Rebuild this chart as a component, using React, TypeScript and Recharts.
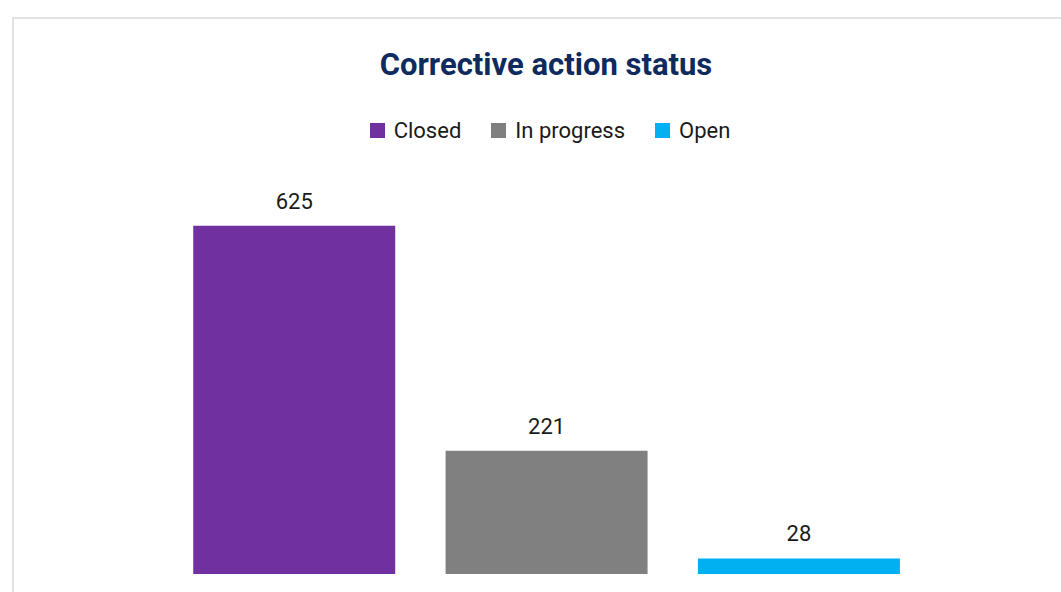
import React from "react";
import { BarChart, Bar, XAxis, YAxis, Cell, LabelList, Legend } from "recharts";

const categories = ["Closed", "In progress", "Open"];
const counts = [625, 221, 28];
const colors = ["#7030a0", "#808080", "#00b0f0"];

const data = categories.map((name, i) => ({ name, value: counts[i] }));

const FONT = "Roboto, 'Noto Sans', sans-serif";

const LegendContent = () => (
  <div style={{ display: "flex", justifyContent: "center", alignItems: "center", fontFamily: FONT, fontSize: 22, color: "#1a1a1a", height: 24 }}>
    {categories.map((c, i) => (
      <div key={c} style={{ display: "flex", alignItems: "center", marginRight: i < categories.length - 1 ? 30 : 0 }}>
        <span style={{ display: "inline-block", width: 15, height: 15, background: colors[i], marginRight: 9 }} />
        <span>{c}</span>
      </div>
    ))}
  </div>
);

export default function App() {
  return (
    <div style={{ position: "fixed", left: 0, top: 0, width: 1061, height: 592, background: "#fff", overflow: "hidden" }}>
      <div style={{ position: "absolute", left: 12, top: 17, width: 1200, height: 700, border: "2px solid #e2e2e2", boxSizing: "border-box" }} />
      <div style={{ position: "absolute", left: 0, top: 46, width: 1092, textAlign: "center", fontFamily: FONT, fontWeight: 700, fontSize: 31, color: "#0e2a5e" }}>
        Corrective action status
      </div>
      <div style={{ position: "absolute", left: 0, top: 0 }}>
        <BarChart width={1061} height={592} data={data} margin={{ top: 160, right: 136, bottom: 18, left: 168 }} barCategoryGap="10%">
          <XAxis dataKey="name" hide />
          <YAxis domain={[0, 700]} hide />
          <Legend verticalAlign="top" content={<LegendContent />} wrapperStyle={{ position: "absolute", top: 118, left: 0, width: 1100 }} />
          <Bar dataKey="value" isAnimationActive={false}>
            {data.map((d, i) => (
              <Cell key={d.name} fill={colors[i]} />
            ))}
            <LabelList dataKey="value" position="top" offset={17} style={{ fontFamily: FONT, fontSize: 22, fill: "#1a1a1a" }} />
          </Bar>
        </BarChart>
      </div>
    </div>
  );
}
